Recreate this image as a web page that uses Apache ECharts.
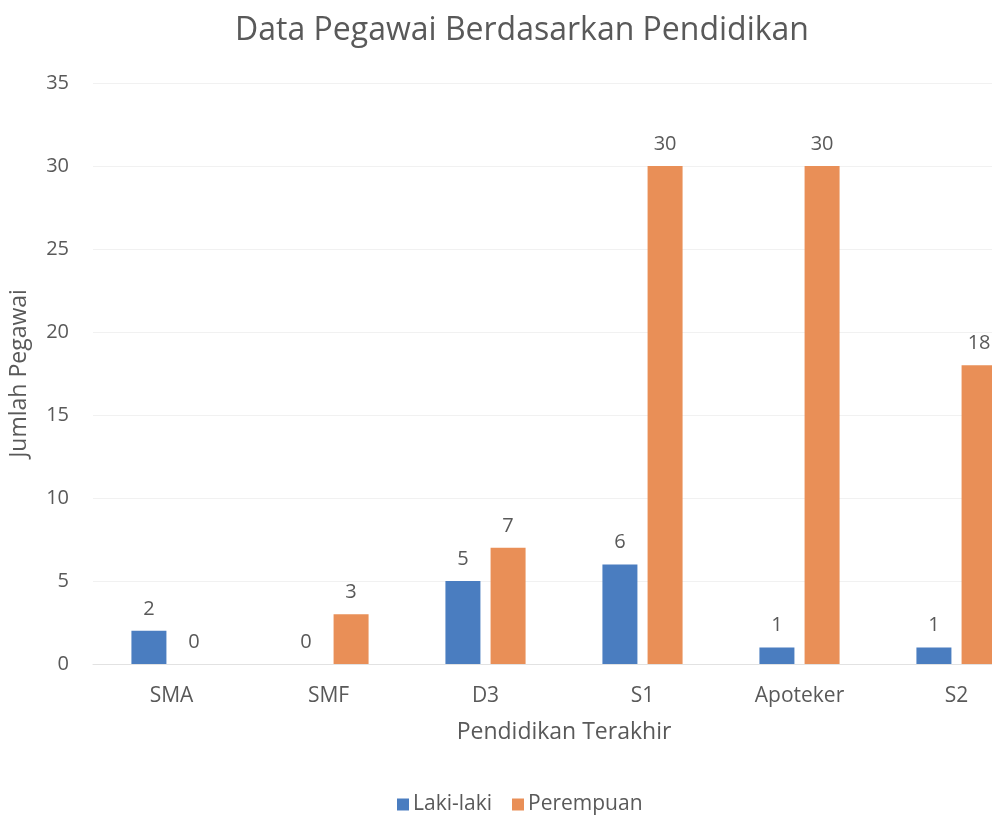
<!DOCTYPE html>
<html>
<head>
<meta charset="utf-8">
<title>Data Pegawai Berdasarkan Pendidikan</title>
<script src="https://cdn.jsdelivr.net/npm/echarts@6/dist/echarts.min.js"></script>
<style>
  html, body { margin: 0; padding: 0; background: #fff; overflow: hidden; }
  /* the original picture is cropped on the right, so the chart is wider than the window */
  #chart { width: 1035px; height: 836px; }
</style>
</head>
<body>
<div id="chart"></div>
<script>
  var categories = ['SMA', 'SMF', 'D3', 'S1', 'Apoteker', 'S2'];
  var lakiLaki = [2, 0, 5, 6, 1, 1];
  var perempuan = [0, 3, 7, 30, 30, 18];
  var yTicks = [0, 5, 10, 15, 20, 25, 30, 35];

  var textColor = '#595959';
  var fontName = '"Open Sans", sans-serif';

  var myChart = echarts.init(document.getElementById('chart'));

  var option = {
    backgroundColor: '#fff',
    textStyle: { fontFamily: fontName },
    title: {
      text: 'Data Pegawai Berdasarkan Pendidikan',
      left: 517,
      textAlign: 'center',
      top: 10,
      textStyle: { color: textColor, fontSize: 32, fontWeight: 'normal', fontFamily: fontName }
    },
    legend: {
      data: ['Laki-laki', 'Perempuan'],
      left: 392,
      top: 789,
      itemWidth: 12,
      itemHeight: 12,
      itemGap: 20,
      icon: 'rect',
      textStyle: { color: textColor, fontSize: 21, fontFamily: fontName, padding: [0, 0, 0, -1] }
    },
    grid: {
      left: 92,
      right: 0,
      top: 83,
      bottom: 172,
      containLabel: false
    },
    xAxis: {
      type: 'category',
      data: categories,
      name: 'Pendidikan Terakhir',
      nameLocation: 'middle',
      nameGap: 57,
      nameTextStyle: { color: textColor, fontSize: 23, fontFamily: fontName },
      axisLine: { lineStyle: { color: '#e2e2e2' } },
      axisTick: { show: false },
      axisLabel: { color: textColor, fontSize: 21, margin: 22, fontFamily: fontName },
      splitLine: { show: false }
    },
    yAxis: {
      type: 'value',
      min: yTicks[0],
      max: yTicks[yTicks.length - 1],
      interval: 5,
      name: 'Jumlah Pegawai',
      nameLocation: 'middle',
      nameGap: 62,
      nameTextStyle: { color: textColor, fontSize: 23, fontFamily: fontName },
      axisLine: { show: false },
      axisTick: { show: false },
      axisLabel: { color: textColor, fontSize: 20, margin: 24, fontFamily: fontName },
      splitLine: { lineStyle: { color: '#f1f1f1' } }
    },
    series: [
      {
        name: 'Laki-laki',
        type: 'bar',
        data: lakiLaki,
        barWidth: 35,
        barGap: '29%',
        itemStyle: { color: '#4a7dc0' },
        label: {
          show: true,
          position: 'top',
          distance: 12,
          color: textColor,
          fontSize: 20,
          fontFamily: fontName
        }
      },
      {
        name: 'Perempuan',
        type: 'bar',
        data: perempuan,
        barWidth: 35,
        itemStyle: { color: '#e98f57' },
        label: {
          show: true,
          position: 'top',
          distance: 12,
          color: textColor,
          fontSize: 20,
          fontFamily: fontName
        }
      }
    ]
  };

  myChart.setOption(option);
</script>
</body>
</html>
